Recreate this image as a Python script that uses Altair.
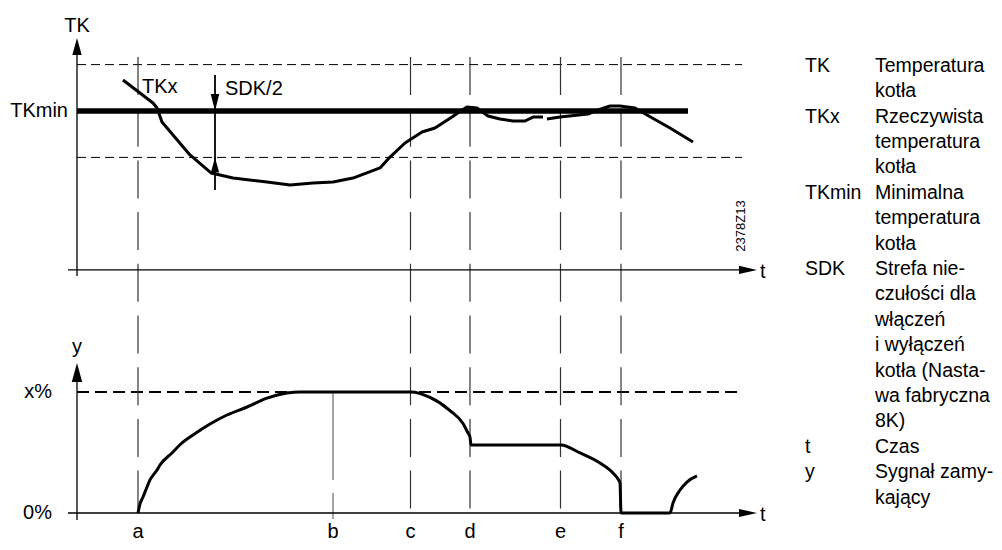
import altair as alt
import pandas as pd

# ---------------- values ----------------
# events on the time axis (time units, origin at the vertical axes)
EVENT_LABELS = ["a", "b", "c", "d", "e", "f"]
EVENT_T = [61, 256, 333.5, 393, 483.5, 544]

# actual boiler temperature TKx, in K relative to TKmin (two pieces, small gap)
TKX1_T = [46, 76, 80, 85, 96, 113, 134, 143, 156, 190, 213, 236, 256, 276, 303,
          313, 328, 345, 358, 375, 385, 390, 400, 411, 423, 436, 448, 456, 466]
TKX1_K = [2.67, 0.69, 0.26, -0.95, -2.07, -3.79, -5.34, -5.52, -5.78, -6.12, -6.38,
          -6.21, -6.12, -5.78, -4.91, -3.97, -2.76, -1.81, -1.47, -0.52, 0.09, 0.34,
          0.26, -0.43, -0.69, -0.86, -0.86, -0.52, -0.52]
TKX2_T = [470, 483, 511, 521, 533, 543, 558, 570, 593, 616]
TKX2_K = [-0.69, -0.52, -0.26, 0.09, 0.43, 0.43, 0.26, -0.34, -1.47, -2.67]

# closing signal y in % of x%
SIG_T = [61, 63, 66, 70, 73, 80, 83, 95, 105, 116, 133, 150, 170, 190, 210, 223, 256,
         334, 353, 373, 386, 391, 393, 394, 484, 503, 523, 536, 541, 543, 544,
         593, 596, 603, 610, 620]
SIG_P = [0, 7.5, 13.2, 21.5, 27.3, 35.5, 39.7, 49.6, 57.9, 64.5, 73.6, 81.0, 87.6, 95.0,
         99.2, 100, 100, 100, 95.5, 84.7, 74.0, 66.1, 62.8, 56.2, 56.2, 49.6, 41.3,
         33.1, 28.1, 24.8, 0, 0, 8.3, 19.0, 25.6, 30.6]

TKMIN = 0.0        # K
SDK_HALF = 4.0     # K  (SDK = 8 K)
XPCT = 100.0       # %
ZERO_PCT = 0.0

LEGEND_KEYS = ["TK", "TKx", "TKmin", "SDK", "t", "y"]
LEGEND_DESC = [
    ["Temperatura", "kotła"],
    ["Rzeczywista", "temperatura", "kotła"],
    ["Minimalna", "temperatura", "kotła"],
    ["Strefa nie-", "czułości dla", "włączeń", "i wyłączeń", "kotła (Nasta-",
     "wa fabryczna", "8K)"],
    ["Czas"],
    ["Sygnał zamy-", "kający"],
]
CODE = "2378Z13"

# ---------------- layout ----------------
FONT = "Liberation Sans"
W, H = 986, 534
X0 = 77                      # page x of the time origin
TK_Y0, TK_PER_K = 111, 11.6  # page y of TKmin, px per K
SG_Y0, SG_PER_P = 513, 1.21  # page y of 0 %, px per %
TK_AXIS_K = -13.7            # level of the t axis in the upper panel


def ty(k):
    return TK_Y0 - TK_PER_K * k


def sy(p):
    return SG_Y0 - SG_PER_P * p


def tt(px):
    return px - X0


xs = alt.Scale(domain=[8 - X0, 8 + W - X0], nice=False, zero=False)
ys = alt.Scale(domain=[8, 8 + H], reverse=True, nice=False, zero=False)


def X(f="t"):
    return alt.X(f"{f}:Q", scale=xs, axis=None)


def Y(f="Y"):
    return alt.Y(f"{f}:Q", scale=ys, axis=None)


layers = []

# upper dashed limits TKmin +/- SDK/2
band = pd.DataFrame({"t": [0, 0], "t2": [tt(742)] * 2,
                     "Y": [ty(TKMIN + SDK_HALF), ty(TKMIN - SDK_HALF)]})
layers.append(alt.Chart(band).mark_rule(color="black", strokeWidth=1, strokeDash=[9, 5])
              .encode(x=X(), x2=alt.X2("t2:Q"), y=Y()))

# x% dashed line
xp = pd.DataFrame({"t": [0], "t2": [tt(742)], "Y": [sy(XPCT)]})
layers.append(alt.Chart(xp).mark_rule(color="black", strokeWidth=2, strokeDash=[12, 6])
              .encode(x=X(), x2=alt.X2("t2:Q"), y=Y()))

# event verticals
ev = pd.DataFrame({"t": [t for l, t in zip(EVENT_LABELS, EVENT_T) if l != "b"]})
ev["Y"] = 57
ev["Y2"] = 519
layers.append(alt.Chart(ev).mark_rule(color="#333333", strokeWidth=1.2, strokeDash=[38, 13.7])
              .encode(x=X(), y=Y(), y2=alt.Y2("Y2:Q")))
evb = pd.DataFrame({"t": [EVENT_T[1]], "Y": [sy(XPCT)], "Y2": [519]})
layers.append(alt.Chart(evb).mark_rule(color="#888888", strokeWidth=1.5, strokeDash=[88, 13])
              .encode(x=X(), y=Y(), y2=alt.Y2("Y2:Q")))

# axes
hax = pd.DataFrame({"t": [tt(68), tt(68)], "t2": [tt(745), tt(745)],
                    "Y": [ty(TK_AXIS_K), sy(ZERO_PCT)]})
layers.append(alt.Chart(hax).mark_rule(color="black", strokeWidth=1.3)
              .encode(x=X(), x2=alt.X2("t2:Q"), y=Y()))
vax = pd.DataFrame({"t": [0, 0], "Y": [ty(TK_AXIS_K) + 6, sy(ZERO_PCT) + 7],
                    "Y2": [50, 376]})
layers.append(alt.Chart(vax).mark_rule(color="black", strokeWidth=1.3)
              .encode(x=X(), y=Y(), y2=alt.Y2("Y2:Q")))

# TKmin thick line
tkm = pd.DataFrame({"t": [0], "t2": [tt(688)], "Y": [ty(TKMIN)]})
layers.append(alt.Chart(tkm).mark_rule(color="black", strokeWidth=5.5)
              .encode(x=X(), x2=alt.X2("t2:Q"), y=Y()))

# SDK/2 measuring line
sdk = pd.DataFrame({"t": [tt(215)], "Y": [75], "Y2": [190]})
layers.append(alt.Chart(sdk).mark_rule(color="black", strokeWidth=1.8)
              .encode(x=X(), y=Y(), y2=alt.Y2("Y2:Q")))

# arrow heads
UP = "M0,-1L0.55,1L-0.55,1Z"
DOWN = "M0,1L0.5,-1L-0.5,-1Z"
RIGHT = "M1,0L-1,-0.45L-1,0.45Z"
up = pd.DataFrame({"t": [0, 0, tt(215)],
                   "Y": [38 + 8.5, 363 + 9.5, ty(TKMIN - SDK_HALF) + 7.5],
                   "s": [17 ** 2, 19 ** 2, 15 ** 2]})
layers.append(alt.Chart(up).mark_point(shape=UP, filled=True, color="black", opacity=1, strokeWidth=0)
              .encode(x=X(), y=Y(), size=alt.Size("s:Q", scale=None)))
dn = pd.DataFrame({"t": [tt(215)], "Y": [ty(TKMIN) - 8.5], "s": [17 ** 2]})
layers.append(alt.Chart(dn).mark_point(shape=DOWN, filled=True, color="black", opacity=1, strokeWidth=0)
              .encode(x=X(), y=Y(), size=alt.Size("s:Q", scale=None)))
rt = pd.DataFrame({"t": [tt(748), tt(748)], "Y": [ty(TK_AXIS_K), sy(ZERO_PCT)],
                   "s": [18 ** 2, 18 ** 2]})
layers.append(alt.Chart(rt).mark_point(shape=RIGHT, filled=True, color="black", opacity=1, strokeWidth=0)
              .encode(x=X(), y=Y(), size=alt.Size("s:Q", scale=None)))

# TKx curve
tk = pd.concat([
    pd.DataFrame({"t": TKX1_T, "K": TKX1_K, "seg": "1"}),
    pd.DataFrame({"t": TKX2_T, "K": TKX2_K, "seg": "2"}),
])
tk["Y"] = ty(tk["K"])
layers.append(alt.Chart(tk).mark_line(color="black", strokeWidth=3, strokeJoin="round")
              .encode(x=X(), y=Y(), detail="seg:N", order="t:Q"))

# closing signal curve
sg = pd.DataFrame({"t": SIG_T, "P": SIG_P})
sg["Y"] = sy(sg["P"])
layers.append(alt.Chart(sg).mark_line(color="black", strokeWidth=3, interpolate="monotone",
                                      strokeJoin="round")
              .encode(x=X(), y=Y(), order="t:Q"))


def text_layer(df, align, size=20, angle=0, baseline="alphabetic"):
    return (alt.Chart(df)
            .mark_text(font=FONT, fontSize=size, align=align, baseline=baseline,
                       color="black", angle=angle)
            .encode(x=X(), y=Y(), text="label:N"))


# centred labels
cen = pd.DataFrame({
    "label": ["TK", "y"] + EVENT_LABELS,
    "t": [0, 0] + EVENT_T,
    "Y": [32, 353] + [537.5] * len(EVENT_LABELS),
})
layers.append(text_layer(cen, "center"))

# right-aligned labels
rgt = pd.DataFrame({"label": ["TKmin", "x%", "0%"],
                    "t": [tt(68), tt(52), tt(52)],
                    "Y": [117, sy(XPCT) + 5.5, sy(ZERO_PCT) + 6]})
layers.append(text_layer(rgt, "right"))

# left-aligned labels
lft = pd.DataFrame({"label": ["TKx", "SDK/2", "t", "t"],
                    "t": [tt(142), tt(225), tt(760), tt(760)],
                    "Y": [93, 95, 278, 521]})
layers.append(text_layer(lft, "left"))

# drawing code
code = pd.DataFrame({"label": [CODE], "t": [tt(741)], "Y": [226]})
layers.append(text_layer(code, "center", size=13, angle=270, baseline="middle"))

# legend
rows_k, rows_d = [], []
i = 0
for key, desc in zip(LEGEND_KEYS, LEGEND_DESC):
    rows_k.append({"label": key, "t": tt(805), "Y": 71.7 + 25.4 * i})
    for line in desc:
        rows_d.append({"label": line, "t": tt(875), "Y": 71.7 + 25.4 * i})
        i += 1
layers.append(text_layer(pd.DataFrame(rows_k), "left", size=19.5))
layers.append(text_layer(pd.DataFrame(rows_d), "left", size=19.5))

chart = (alt.layer(*layers)
         .properties(width=W, height=H, padding=0,
                     autosize=alt.AutoSizeParams(type="none"))
         .configure_view(stroke=None))

chart.save("out.html", embed_options={"renderer": "svg", "actions": False})
